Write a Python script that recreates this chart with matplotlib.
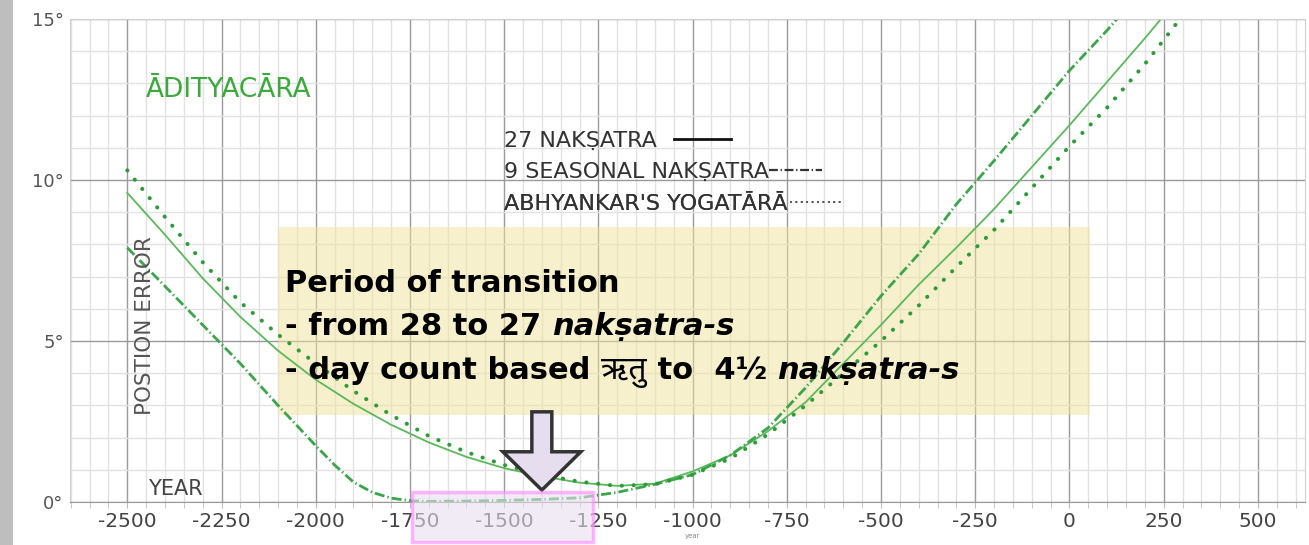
"""
Position error of the Adityacara naksatra schemes against year,
with the transition period highlighted.
"""
import matplotlib
matplotlib.use('Agg')
import matplotlib.pyplot as plt
from matplotlib.patches import Rectangle, FancyArrow
from matplotlib.offsetbox import TextArea, HPacker, VPacker, AnchoredOffsetbox
from matplotlib.ticker import MultipleLocator

plt.rcParams['axes.unicode_minus'] = False
plt.rcParams['font.family'] = ['DejaVu Sans']

# Data (year, position error in degrees)
years_27 = [-2500, -2400, -2300, -2200, -2100, -2000, -1900, -1800, -1700, -1600,
            -1500, -1400, -1300, -1200, -1100, -1000, -900, -800, -700, -600,
            -500, -400, -300, -200, -100, 0, 100, 200, 250]
err_27 = [9.6, 8.3, 6.95, 5.75, 4.7, 3.8, 3.05, 2.4, 1.85, 1.4,
          1.05, 0.8, 0.6, 0.5, 0.57, 0.95, 1.45, 2.2, 3.1, 4.3,
          5.5, 6.75, 7.9, 9.1, 10.4, 11.7, 13.05, 14.4, 15.1]

years_9 = [-2500, -2400, -2300, -2200, -2100, -2000, -1950, -1900, -1850, -1800,
           -1750, -1700, -1600, -1500, -1400, -1300, -1200, -1100, -1000, -900,
           -800, -700, -600, -500, -400, -300, -200, -100, 0, 100, 130]
err_9 = [7.9, 6.7, 5.5, 4.3, 3.0, 1.75, 1.15, 0.62, 0.3, 0.12,
         0.04, 0.02, 0.03, 0.05, 0.08, 0.13, 0.3, 0.55, 0.85, 1.45,
         2.3, 3.55, 4.95, 6.4, 7.7, 9.25, 10.6, 12.0, 13.4, 14.65, 15.05]

years_abh = [-2500, -2400, -2300, -2200, -2100, -2000, -1900, -1800, -1700, -1600,
             -1500, -1400, -1300, -1200, -1100, -1000, -900, -800, -700, -600,
             -500, -400, -300, -200, -100, 0, 100, 200, 300]
err_abh = [10.3, 8.85, 7.45, 6.2, 5.2, 4.3, 3.45, 2.7, 2.05, 1.55,
           1.15, 0.85, 0.63, 0.5, 0.55, 0.85, 1.35, 2.1, 3.0, 4.0,
           5.0, 6.1, 7.3, 8.45, 9.75, 11.05, 12.25, 13.6, 15.1]

labels = ['27 NAKṢATRA', '9 SEASONAL NAKṢATRA', "ABHYANKAR'S YOGATĀRĀ"]
xticks = list(range(-2500, 501, 250))
yticks = [0, 5, 10, 15]
ytick_labels = ['0°', '5°', '10°', '15°']

# transition period box and arrow (years / degrees)
period_box = (-2100, 55, 2.7, 8.55)
arrow_year = -1400
highlight = (-1745, -1265, -1.25, 0.31)

# Plot
fig = plt.figure(figsize=(13.09, 5.45), dpi=100)
fig.patches.append(Rectangle((0, 0), 13 / 1309, 1, transform=fig.transFigure,
                             facecolor='#bebebe', edgecolor='none'))
ax = fig.add_axes([70 / 1309, 43 / 545, 1235 / 1309, 483 / 545])
ax.set_axisbelow(True)

ax.plot(years_27, err_27, color='#5cb85c', lw=1.3, zorder=2)
ax.plot(years_9, err_9, color='#3aa54a', lw=2.0,
        linestyle=(0, (3.6, 1.1, 0.5, 1.1)), zorder=2)
ax.plot(years_abh, err_abh, color='#2d9b38', lw=2.9,
        linestyle=(0, (0.05, 2.9)), dash_capstyle='round', zorder=2)

ax.set_xlim(-2652, 625)
ax.set_ylim(0, 15)
ax.set_xticks(xticks)
ax.set_xticklabels([str(x) for x in xticks])
ax.set_yticks(yticks)
ax.set_yticklabels(ytick_labels)
ax.xaxis.set_minor_locator(MultipleLocator(50))
ax.yaxis.set_minor_locator(MultipleLocator(1))
ax.grid(which='major', color='#9a9a9a', lw=1.0)
ax.grid(which='minor', color='#e2e2e2', lw=1.0)
ax.tick_params(axis='x', which='both', direction='out', length=4, color='#bbbbbb',
               labelsize=14.5, labelcolor='#444444', pad=3)
ax.tick_params(axis='y', which='both', length=0, labelsize=13,
               labelcolor='#555555', pad=4.5)
for side in ['top', 'left', 'right']:
    ax.spines[side].set_color('#d0d0d0')
ax.spines['bottom'].set_color('#999999')

ax.text(0.0615, 0.853, 'ĀDITYACĀRA', transform=ax.transAxes, fontsize=19,
        color='#3aaa3a', va='center', ha='left')
ax.text(0.063, 0.027, 'YEAR', transform=ax.transAxes, fontsize=15,
        color='#444444', va='center', ha='left')
ax.text(0.0607, 0.366, 'POSTION ERROR', transform=ax.transAxes, fontsize=15.5,
        color='#555555', va='center', ha='center', rotation=90)
ax.text(-1000, -1.05, 'year', fontsize=5, color='#888888', ha='center', va='center',
        clip_on=False)

# legend, text first and sample line after it
handles = [plt.Line2D([], [], color='#111111', lw=2),
           plt.Line2D([], [], color='#333333', lw=1.6, linestyle=(0, (4, 1.2, 0.6, 1.2))),
           plt.Line2D([], [], color='#555555', lw=1.3, linestyle=(0, (1, 2)))]
leg_y = [0.7474, 0.683, 0.617]
leg_len = [2.6, 2.4, 2.35]
leg_pad = [0.75, 0.0, 0.1]
for h, lab, y, hl, hp in zip(handles, labels, leg_y, leg_len, leg_pad):
    leg = ax.legend([h], [lab], loc='center left', bbox_to_anchor=(0.3514, y),
                    frameon=False, markerfirst=False, fontsize=16,
                    handlelength=hl, handletextpad=hp, borderpad=0,
                    borderaxespad=0, labelcolor='#333333')
    ax.add_artist(leg)

# highlight of transition period
x0, x1, y0, y1 = period_box
ax.add_patch(Rectangle((x0, y0), x1 - x0, y1 - y0, facecolor='#efe39a',
                       alpha=0.5, edgecolor='none', zorder=1))

bold = dict(fontsize=22, fontweight='bold', color='black')
bold_it = dict(fontsize=22, fontweight='bold', style='italic', color='black')
deva = dict(fontsize=23, fontweight='bold', color='black',
            family=['Noto Sans Devanagari', 'Lohit Devanagari', 'FreeSans',
                    'Noto Sans', 'DejaVu Sans'])
line1 = HPacker(children=[TextArea('Period of transition', textprops=bold)],
                pad=0, sep=0)
line2 = HPacker(children=[TextArea('- from 28 to 27 ', textprops=bold),
                          TextArea('nakṣatra-s', textprops=bold_it)],
                pad=0, sep=0, align='baseline')
line3 = HPacker(children=[TextArea('- day count based ', textprops=bold),
                          TextArea('ऋतु', textprops=deva),
                          TextArea(' to  4½ ', textprops=bold),
                          TextArea('nakṣatra-s', textprops=bold_it)],
                pad=0, sep=0, align='baseline')
block = VPacker(children=[line1, line2, line3], pad=0, sep=10, align='left')
box = AnchoredOffsetbox(loc='upper left', child=block, pad=0, borderpad=0,
                        frameon=False, bbox_to_anchor=(0.174, 0.483),
                        bbox_transform=ax.transAxes)
box.set_zorder(3)
ax.add_artist(box)

ax.add_patch(FancyArrow(arrow_year, 2.8, 0, -2.43, width=53, head_width=207,
                        head_length=1.19, length_includes_head=True,
                        facecolor='#e6deee', edgecolor='#333333', lw=2.5,
                        joinstyle='miter', zorder=4))

hx0, hx1, hy0, hy1 = highlight
ax.add_patch(Rectangle((hx0, hy0), hx1 - hx0, hy1 - hy0, facecolor='#e6deee',
                       alpha=0.6, edgecolor='#ff88ff', lw=2.5, zorder=5,
                       clip_on=False))

plt.savefig('out.png', dpi=100)
plt.close()
